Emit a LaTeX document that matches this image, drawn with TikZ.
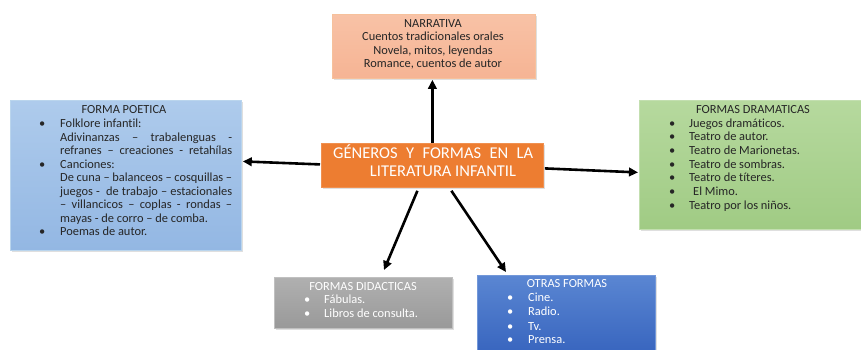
\documentclass[tikz,border=0pt]{standalone}
\usepackage{fontspec}
\setmainfont{Carlito}[Ligatures=NoCommon]
\usetikzlibrary{arrows.meta,calc,shadows}
\definecolor{narrfill}{HTML}{F6B494}
\definecolor{narrtop}{HTML}{F8C2A6}
\definecolor{narrline}{HTML}{F4B183}
\definecolor{ctrfill}{HTML}{ED7D31}
\definecolor{poettop}{HTML}{AECBEC}
\definecolor{poetbot}{HTML}{93B7E3}
\definecolor{poetline}{HTML}{9DC3E6}
\definecolor{dramtop}{HTML}{B6D99E}
\definecolor{drambot}{HTML}{A0CB84}
\definecolor{dramline}{HTML}{A9D18E}
\definecolor{didtop}{HTML}{B0B0B0}
\definecolor{didbot}{HTML}{999999}
\definecolor{otrtop}{HTML}{5A86D2}
\definecolor{otrbot}{HTML}{3764BE}
\definecolor{txt}{HTML}{262626}
\tikzset{
  boxshape/.style={anchor=north west, inner sep=0pt, line width=0.8pt,
    drop shadow={opacity=0.25, shadow xshift=1.2pt, shadow yshift=-1.2pt}},
  lt/.style={inner sep=0pt, anchor=west, text height=8.5pt, text depth=3pt,
    font=\fontsize{12.4}{14}\selectfont, text=txt},
  ct/.style={lt, anchor=center},
  wt/.style={lt, text=white},
  wct/.style={ct, text=white},
  big/.style={inner sep=0pt, anchor=center, text height=11.5pt, text depth=3.5pt,
    font=\fontsize{16.5}{18}\selectfont, text=white},
  arr/.style={line width=2.6pt, -{Triangle[length=9pt,width=8.5pt]}, black},
}
\begin{document}
\begin{tikzpicture}[x=1pt,y=-1pt]
\useasboundingbox (0,0) rectangle (861,349);
\fill[white] (0,0) rectangle (861,349);

% boxes
\node[boxshape, draw=narrline!80!white, top color=narrtop, bottom color=narrfill,
  minimum width=203pt, minimum height=64pt] (narr) at (332,14) {};
\node[boxshape, draw=ctrfill!85!white, fill=ctrfill,
  minimum width=222pt, minimum height=44pt] (ctr) at (321,143) {};
\node[boxshape, draw=poetline!70!white, top color=poettop, bottom color=poetbot,
  minimum width=231pt, minimum height=150pt] (poet) at (10,100) {};
\node[boxshape, draw=dramline!70!white, top color=dramtop, bottom color=drambot,
  minimum width=222pt, minimum height=129pt] (dram) at (639,100) {};
\node[boxshape, draw=didtop!80!white, top color=didtop, bottom color=didbot,
  minimum width=178pt, minimum height=51pt] (did) at (274,277) {};
\node[boxshape, draw=otrtop!85!white, top color=otrtop, bottom color=otrbot,
  minimum width=178pt, minimum height=80pt] (otr) at (477,275) {};

% narrative text
\node[ct] (n1) at (433,25) {NARRATIVA};
\node[ct] (n2) at (433,38) {Cuentos tradicionales orales};
\node[ct] (n3) at (433,52) {Novela, mitos, leyendas};
\node[ct] (n4) at (433,65) {Romance, cuentos de autor};

% center text
\node[big, anchor=west] (c1) at (333,154) {\makebox[200pt][s]{GÉNEROS Y FORMAS EN LA}};
\node[big] (c2) at (443,172) {LITERATURA INFANTIL};

% poetic text
\node[ct] (p0) at (124,111) {FORMA POETICA};
\node[lt] (pb1) at (39,125) {•};
\node[lt] (p1) at (60,125) {Folklore infantil:};
\node[lt] (p2) at (60,139) {\makebox[172pt][s]{Adivinanzas – trabalenguas -}};
\node[lt] (p3) at (60,152) {\makebox[172pt][s]{refranes – creaciones - retahílas}};
\node[lt] (pb2) at (39,166) {•};
\node[lt] (p4) at (60,166) {Canciones:};
\node[lt] (p5) at (60,179) {\makebox[172pt][s]{De cuna – balanceos – cosquillas –}};
\node[lt] (p6) at (60,193) {\makebox[172pt][s]{juegos -\ \ de trabajo – estacionales}};
\node[lt] (p7) at (60,206) {\makebox[172pt][s]{– villancicos – coplas - rondas –}};
\node[lt] (p8) at (60,220) {mayas - de corro – de comba.};
\node[lt] (pb3) at (39,233) {•};
\node[lt] (p9) at (60,233) {Poemas de autor.};

% dramatic text
\node[ct] (d0) at (753,111) {FORMAS DRAMATICAS};
\foreach \i/\y/\t/\xx in {1/125/{Juegos dramáticos.}/689,
  2/138/{Teatro de autor.}/689,
  3/152/{Teatro de Marionetas.}/689,
  4/166/{Teatro de sombras.}/689,
  5/179/{Teatro de títeres.}/689,
  6/193/{El Mimo.}/693,
  7/207/{Teatro por los niños.}/689}{
  \node[lt] (db\i) at (669,\y) {•};
  \node[lt] (d\i) at (\xx,\y) {\t};
}

% didactic text
\node[wct] (f0) at (363,288) {FORMAS DIDACTICAS};
\node[wt] (fb1) at (304,301) {•};
\node[wt] (f1) at (324,301) {Fábulas.};
\node[wt] (fb2) at (304,315) {•};
\node[wt] (f2) at (324,315) {Libros de consulta.};

% other forms text
\node[wct] (o0) at (567,285) {OTRAS FORMAS};
\foreach \i/\y/\t in {1/299/{Cine.},2/313/{Radio.},3/328/{Tv.},4/341/{Prensa.}}{
  \node[wt] (ob\i) at (507,\y) {•};
  \node[wt] (o\i) at (528,\y) {\t};
}

% arrows
\draw[arr] (ctr.north) -- ($(narr.south)+(-1.5,1)$);
\draw[arr] ($(ctr.west)+(-1,-1)$) -- ($(poet.east)+(1,-14)$);
\draw[arr] ($(ctr.east)+(1,3)$) -- ($(dram.west)+(-1,7.5)$);
\draw[arr] ($(ctr.south)+(-15,3)$) -- ($(did.north west)+(110,-7)$);
\draw[arr] ($(ctr.south)+(19,3)$) -- ($(otr.north west)+(29,-3)$);
\end{tikzpicture}
\end{document}
